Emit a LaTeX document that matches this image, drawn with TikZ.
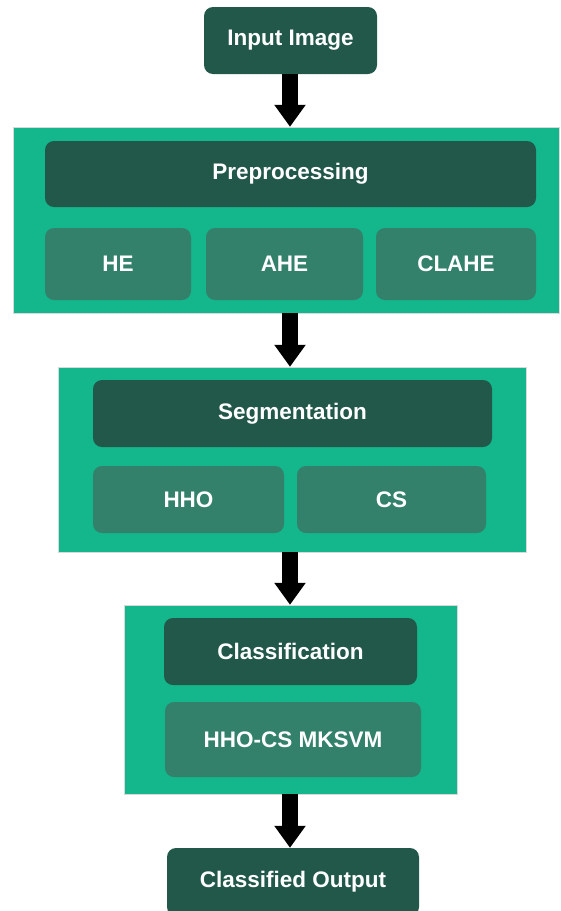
\documentclass[tikz,border=0pt]{standalone}
\usepackage{fontspec}
\setmainfont{Liberation Sans}
\usetikzlibrary{arrows.meta}
\definecolor{panelteal}{HTML}{14B68B}
\definecolor{darkbox}{HTML}{22584A}
\definecolor{midbox}{HTML}{33816B}
\tikzset{
  base/.style={rounded corners=9pt, inner sep=0pt, text=white,
    font=\fontsize{22.5}{26}\selectfont\bfseries, align=center},
  titlebox/.style={base, fill=darkbox},
  subbox/.style={base, fill=midbox},
  panel/.style={fill=panelteal, draw=black!15, line width=0.4pt, inner sep=0pt},
  flow/.style={line width=16pt, -{Triangle[width=30pt, length=22pt]}}
}
\begin{document}
\begin{tikzpicture}[x=1pt, y=-1pt]
\useasboundingbox (0,0) rectangle (560,911);

% stage panels
\node[panel, minimum width=546pt, minimum height=186pt] (p1) at (286,220) {};
\node[panel, minimum width=468pt, minimum height=185pt] (p2) at (292,459.5) {};
\node[panel, minimum width=333pt, minimum height=189pt] (p3) at (290.5,699.5) {};

% input and output
\node[titlebox, minimum width=173pt, minimum height=67pt] (in) at (290.5,40.5) {Input Image};
\node[titlebox, minimum width=252pt, minimum height=68pt] (out) at (293,882) {Classified Output};

% preprocessing
\node[titlebox, minimum width=491pt, minimum height=66pt] (pre) at (290.5,174) {Preprocessing};
\node[subbox, minimum width=146pt, minimum height=72pt] (he) at (118,264) {HE};
\node[subbox, minimum width=157pt, minimum height=72pt] (ahe) at (284.5,264) {AHE};
\node[subbox, minimum width=160pt, minimum height=72pt] (clahe) at (456,264) {CLAHE};

% segmentation
\node[titlebox, minimum width=399pt, minimum height=67pt] (seg) at (292.5,413.5) {Segmentation};
\node[subbox, minimum width=191pt, minimum height=67pt] (hho) at (188.5,499.5) {HHO};
\node[subbox, minimum width=189pt, minimum height=67pt] (cs) at (391.5,499.5) {CS};

% classification
\node[titlebox, minimum width=253pt, minimum height=67pt] (cls) at (290.5,651.5) {Classification};
\node[subbox, minimum width=256pt, minimum height=75pt] (mk) at (293,739.5) {HHO-CS MKSVM};

% flow arrows
\coordinate (ax) at (290,0);
\draw[flow] (in.south -| ax) -- (p1.north -| ax);
\draw[flow] (p1.south -| ax) -- (p2.north -| ax);
\draw[flow] (p2.south -| ax) -- (p3.north -| ax);
\draw[flow] (p3.south -| ax) -- (out.north -| ax);
\end{tikzpicture}
\end{document}
